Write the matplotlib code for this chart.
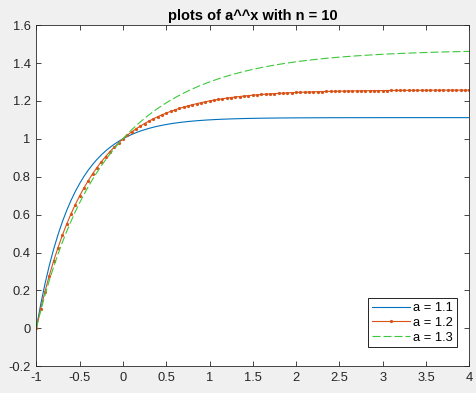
import matplotlib

matplotlib.use("Agg")
import matplotlib.pyplot as plt
from matplotlib.ticker import FixedLocator, FuncFormatter
import numpy as np

plt.rcParams.update(
    {
        "font.family": ["Liberation Sans", "DejaVu Sans"],
        "font.size": 9.3,
        "figure.facecolor": "#F0F0F0",
        "savefig.facecolor": "#F0F0F0",
        "axes.linewidth": 0.6,
        "axes.edgecolor": "#262626",
        "xtick.color": "#262626",
        "ytick.color": "#262626",
    }
)

# sample positions, -1:0.05:4
x = np.linspace(-1.0, 4.0, 101)

y_a11 = [
    0.0, 0.12432, 0.23418, 0.33120, 0.41716, 0.49332, 0.56086, 0.62086, 0.67422, 0.72163,
    0.76376, 0.80146, 0.83474, 0.86453, 0.89107, 0.91466, 0.93579, 0.95458, 0.97143, 0.98633,
    1.0, 1.01192, 1.02257, 1.03207, 1.04056, 1.04814, 1.05491, 1.06096, 1.06637, 1.07120,
    1.07551, 1.07937, 1.08281, 1.08589, 1.08864, 1.09109, 1.09329, 1.09525, 1.09701, 1.09857,
    1.1, 1.10125, 1.10237, 1.10337, 1.10426, 1.10506, 1.10577, 1.10641, 1.10698, 1.10749,
    1.10795, 1.10835, 1.10872, 1.10904, 1.10933, 1.10959, 1.10982, 1.11003, 1.11022, 1.11038,
    1.11053, 1.11066, 1.11078, 1.11089, 1.11098, 1.11107, 1.11114, 1.11121, 1.11127, 1.11133,
    1.11137, 1.11142, 1.11146, 1.11149, 1.11152, 1.11155, 1.11157, 1.11160, 1.11162, 1.11163,
    1.11165, 1.11166, 1.11167, 1.11168, 1.11169, 1.11170, 1.11171, 1.11171, 1.11172, 1.11173,
    1.11173, 1.11174, 1.11174, 1.11175, 1.11175, 1.11175, 1.11176, 1.11176, 1.11176, 1.11176,
    1.11177,
]

y_a12 = [
    0.0, 0.10162, 0.19409, 0.27835, 0.35528, 0.42475, 0.48995, 0.54897, 0.60309, 0.65284,
    0.69856, 0.74061, 0.77934, 0.81505, 0.84795, 0.87827, 0.90633, 0.93221, 0.95609, 0.97820,
    1.0, 1.01870, 1.03602, 1.05206, 1.06692, 1.08068, 1.09344, 1.10527, 1.11623, 1.12640,
    1.13583, 1.14457, 1.15268, 1.16021, 1.16719, 1.17366, 1.17968, 1.18526, 1.19043, 1.19524,
    1.2, 1.20410, 1.20791, 1.21144, 1.21473, 1.21778, 1.22062, 1.22325, 1.22570, 1.22798,
    1.23009, 1.23205, 1.23387, 1.23557, 1.23714, 1.23860, 1.23996, 1.24122, 1.24240, 1.24348,
    1.24450, 1.24544, 1.24631, 1.24712, 1.24787, 1.24857, 1.24922, 1.24983, 1.25039, 1.25091,
    1.25140, 1.25185, 1.25226, 1.25265, 1.25301, 1.25335, 1.25366, 1.25395, 1.25422, 1.25447,
    1.25470, 1.25491, 1.25511, 1.25530, 1.25547, 1.25563, 1.25578, 1.25592, 1.25605, 1.25617,
    1.25628, 1.25638, 1.25648, 1.25657, 1.25665, 1.25673, 1.25680, 1.25687, 1.25693, 1.25699,
    1.25704,
]

y_a13 = [
    0.0, 0.09114, 0.17480, 0.25225, 0.32402, 0.39065, 0.45265, 0.51043, 0.56432, 0.61467,
    0.66177, 0.70592, 0.74728, 0.78608, 0.82257, 0.85684, 0.88910, 0.91946, 0.94807, 0.97505,
    1.0, 1.02420, 1.04693, 1.06842, 1.08873, 1.10793, 1.12610, 1.14330, 1.15958, 1.17500,
    1.18961, 1.20347, 1.21660, 1.22905, 1.24087, 1.25208, 1.26272, 1.27282, 1.28241, 1.29152,
    1.3, 1.30828, 1.31611, 1.32355, 1.33062, 1.33734, 1.34373, 1.34981, 1.35558, 1.36108,
    1.36631, 1.37128, 1.37602, 1.38052, 1.38481, 1.38888, 1.39277, 1.39646, 1.39998, 1.40333,
    1.40646, 1.40946, 1.41232, 1.41504, 1.41765, 1.42013, 1.42249, 1.42475, 1.42690, 1.42895,
    1.43090, 1.43276, 1.43454, 1.43623, 1.43785, 1.43939, 1.44086, 1.44226, 1.44360, 1.44487,
    1.44608, 1.44724, 1.44835, 1.44940, 1.45040, 1.45136, 1.45227, 1.45314, 1.45397, 1.45476,
    1.45552, 1.45624, 1.45692, 1.45758, 1.45820, 1.45879, 1.45936, 1.45990, 1.46042, 1.46091,
    1.46138,
]

labels = ["a = 1.1", "a = 1.2", "a = 1.3"]
x_ticks = [-1, -0.5, 0, 0.5, 1, 1.5, 2, 2.5, 3, 3.5, 4]
y_ticks = [-0.2, 0, 0.2, 0.4, 0.6, 0.8, 1, 1.2, 1.4, 1.6]

C = {"blue": "#0072BD", "red": "#D95319", "green": "#3CC83C", "text": "#262626"}


def main() -> None:
    fig = plt.figure(figsize=(4.77, 3.93), dpi=100)
    ax = fig.add_axes([0.0761, 0.0682, 0.9078, 0.8679])
    ax.set_facecolor("white")

    ax.plot(x, y_a11, color=C["blue"], lw=0.8, label=labels[0])
    ax.plot(x, y_a12, color=C["red"], lw=0.8, marker=".", markersize=2.6, label=labels[1])
    ax.plot(x, y_a13, color=C["green"], lw=0.8, dashes=(7.2, 2.7), label=labels[2])

    ax.set_xlim(-1, 4)
    ax.set_ylim(-0.2, 1.6)
    ax.xaxis.set_major_locator(FixedLocator(x_ticks))
    ax.yaxis.set_major_locator(FixedLocator(y_ticks))
    fmt = FuncFormatter(lambda v, _: f"{v:g}")
    ax.xaxis.set_major_formatter(fmt)
    ax.yaxis.set_major_formatter(fmt)
    ax.tick_params(
        axis="both", direction="in", top=True, right=True,
        length=3.5, width=0.6, labelsize=9.3, pad=4, labelcolor=C["text"],
    )

    ax.set_title("plots of a^^x with n = 10", fontsize=10.5, fontweight="bold", color="black", pad=4)

    leg = ax.legend(
        loc="lower right",
        bbox_to_anchor=(0.971, 0.055),
        fontsize=9.3,
        handlelength=3.0,
        handletextpad=0.2,
        labelspacing=0.2,
        borderpad=0.3,
        borderaxespad=0.0,
        numpoints=1,
        fancybox=False,
        framealpha=1.0,
    )
    leg.get_frame().set_edgecolor("black")
    leg.get_frame().set_linewidth(0.6)

    fig.savefig("out.png", dpi=100)
    plt.close(fig)


if __name__ == "__main__":
    main()
